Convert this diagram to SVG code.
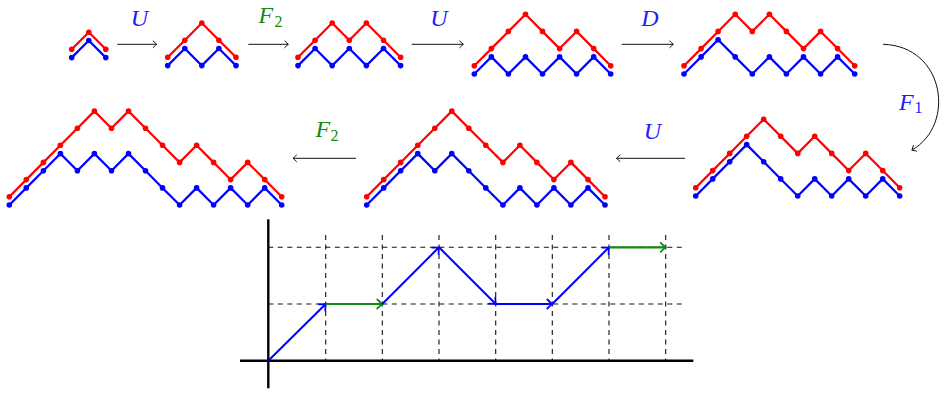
<svg xmlns="http://www.w3.org/2000/svg" width="946" height="417" viewBox="0 0 946 417">
<style>
.r{fill:none;stroke:#ff0000;stroke-width:2.2;stroke-linejoin:round;marker-start:url(#dr);marker-mid:url(#dr);marker-end:url(#dr)}
.b{fill:none;stroke:#0000ff;stroke-width:2.2;stroke-linejoin:round;marker-start:url(#db);marker-mid:url(#db);marker-end:url(#db)}
.conn{fill:none;stroke:#111;stroke-width:1;marker-end:url(#ak)}
.lbl{font-family:"Liberation Serif","DejaVu Serif",serif;font-style:italic;font-size:24px}
.sub{font-family:"Liberation Serif","DejaVu Serif",serif;font-size:16px}
.lb{fill:#2020ff}
.lg{fill:#108a10}
.grid{stroke:#111;stroke-width:1.1;stroke-dasharray:5,4.5;fill:none}
.axis{stroke:#000;stroke-width:2.4;fill:none}
.pb{stroke:#0000ff;stroke-width:2;fill:none;marker-end:url(#ab)}
.pg{stroke:#108a10;stroke-width:2.2;fill:none;marker-end:url(#ag)}
</style>
<defs>
<marker id="dr" markerUnits="userSpaceOnUse" markerWidth="6" markerHeight="6" refX="3" refY="3" overflow="visible"><circle cx="3" cy="3" r="2.8" fill="#ff0000"/></marker>
<marker id="db" markerUnits="userSpaceOnUse" markerWidth="6" markerHeight="6" refX="3" refY="3" overflow="visible"><circle cx="3" cy="3" r="2.8" fill="#0000ff"/></marker>
<marker id="ak" markerUnits="userSpaceOnUse" orient="auto" markerWidth="8" markerHeight="8" refX="0" refY="0" overflow="visible"><path d="M-3.5,-3.3 Q-1,-0.8 0,0 Q-1,0.8 -3.5,3.3" fill="none" stroke="#111" stroke-width="1" stroke-linecap="round"/></marker>
<marker id="ab" markerUnits="userSpaceOnUse" orient="auto" markerWidth="10" markerHeight="10" refX="0" refY="0" overflow="visible"><path d="M-5,-4.5 Q-1.5,-1 0,0 Q-1.5,1 -5,4.5" fill="none" stroke="#0000ff" stroke-width="1.8" stroke-linecap="round"/></marker>
<marker id="ag" markerUnits="userSpaceOnUse" orient="auto" markerWidth="10" markerHeight="10" refX="0" refY="0" overflow="visible"><path d="M-5,-4.5 Q-1.5,-1 0,0 Q-1.5,1 -5,4.5" fill="none" stroke="#108a10" stroke-width="1.8" stroke-linecap="round"/></marker>
</defs>
<rect width="946" height="417" fill="#ffffff"/>

<g id="path1">
<polyline class="r" points="71.7,49.3 88.8,32.2 105.8,49.3"/>
<polyline class="b" points="71.7,57.6 88.8,40.5 105.8,57.6"/>
</g>
<g id="path2">
<polyline class="r" points="167.7,57.3 184.8,40.2 201.8,23.0 218.9,40.2 236.0,57.3"/>
<polyline class="b" points="167.7,65.6 184.8,48.5 201.8,65.6 218.9,48.5 236.0,65.6"/>
</g>
<g id="path3">
<polyline class="r" points="298,57.3 315.1,40.2 332.2,23.0 349.3,40.2 366.4,23.0 383.5,40.2 400.6,57.3"/>
<polyline class="b" points="298,65.6 315.1,48.5 332.2,65.6 349.3,48.5 366.4,65.6 383.5,48.5 400.6,65.6"/>
</g>
<g id="path4">
<polyline class="r" points="474.3,65.7 491.4,48.6 508.4,31.4 525.5,14.3 542.5,31.4 559.6,48.6 576.6,31.4 593.7,48.6 610.7,65.7"/>
<polyline class="b" points="474.3,74 491.4,56.9 508.4,74 525.5,56.9 542.5,74 559.6,56.9 576.6,74 593.7,56.9 610.7,74"/>
</g>
<g id="path5">
<polyline class="r" points="684,65.7 701.1,48.6 718.1,31.4 735.2,14.3 752.3,31.4 769.4,14.3 786.4,31.4 803.5,48.6 820.6,31.4 837.6,48.6 854.7,65.7"/>
<polyline class="b" points="684,74 701.1,56.9 718.1,39.7 735.2,56.9 752.3,74 769.4,56.9 786.4,74 803.5,56.9 820.6,74 837.6,56.9 854.7,74"/>
</g>
<g id="path6">
<polyline class="r" points="695.7,187.7 712.7,170.6 729.7,153.4 746.7,136.3 763.7,119.2 780.7,136.3 797.7,153.4 814.7,136.3 831.7,153.4 848.7,170.6 865.7,153.4 882.7,170.6 899.7,187.7"/>
<polyline class="b" points="695.7,196 712.7,178.9 729.7,161.7 746.7,144.6 763.7,161.7 780.7,178.9 797.7,196 814.7,178.9 831.7,196 848.7,178.9 865.7,196 882.7,178.9 899.7,196"/>
</g>
<g id="path7">
<polyline class="r" points="366.7,196.7 383.7,179.6 400.7,162.4 417.8,145.3 434.8,128.2 451.8,111.1 468.8,128.2 485.8,145.3 502.9,162.4 519.9,145.3 536.9,162.4 553.9,179.6 570.9,162.4 588.0,179.6 605.0,196.7"/>
<polyline class="b" points="366.7,205 383.7,187.9 400.7,170.7 417.8,153.6 434.8,170.7 451.8,153.6 468.8,170.7 485.8,187.9 502.9,205 519.9,187.9 536.9,205 553.9,187.9 570.9,205 588.0,187.9 605.0,205"/>
</g>
<g id="path8">
<polyline class="r" points="9.3,196.7 26.3,179.6 43.4,162.4 60.4,145.3 77.4,128.2 94.4,111.1 111.5,128.2 128.5,111.1 145.5,128.2 162.5,145.3 179.6,162.4 196.6,145.3 213.6,162.4 230.6,179.6 247.7,162.4 264.7,179.6 281.7,196.7"/>
<polyline class="b" points="9.3,205 26.3,187.9 43.4,170.7 60.4,153.6 77.4,170.7 94.4,153.6 111.5,170.7 128.5,153.6 145.5,170.7 162.5,187.9 179.6,205 196.6,187.9 213.6,205 230.6,187.9 247.7,205 264.7,187.9 281.7,205"/>
</g>

<g id="connectors">
<line class="conn" x1="117.3" y1="44.3" x2="156.7" y2="44.3"/>
<text class="lbl lb" x="139.5" y="25.5" text-anchor="middle">U</text>
<line class="conn" x1="248.3" y1="44.3" x2="288.3" y2="44.3"/>
<text class="lbl lg" x="258.5" y="23">F</text><text class="sub lg" x="274.5" y="27">2</text>
<line class="conn" x1="411.7" y1="44.3" x2="463.3" y2="44.3"/>
<text class="lbl lb" x="439" y="25.5" text-anchor="middle">U</text>
<line class="conn" x1="621.7" y1="44.3" x2="673.3" y2="44.3"/>
<text class="lbl lb" x="650" y="25.5" text-anchor="middle">D</text>
<path class="conn" d="M883,44.3 C945,46 956,125 912,150"/>
<text class="lbl lb" x="899" y="109.5">F</text><text class="sub lb" x="914.5" y="113">1</text>
<line class="conn" x1="685" y1="158.3" x2="616.5" y2="158.3"/>
<text class="lbl lb" x="652.5" y="138.5" text-anchor="middle">U</text>
<line class="conn" x1="356" y1="158.3" x2="293" y2="158.3"/>
<text class="lbl lg" x="315.5" y="137">F</text><text class="sub lg" x="330.5" y="141">2</text>
</g>

<g id="chart">
<path class="grid" d="M325.7,235V360.7M382.3,235V360.7M439,235V360.7M495.7,235V360.7M552.3,235V360.7M609,235V360.7M665.7,235V360.7"/>
<path class="grid" d="M268.3,247.3H681.7M268.3,304H681.7"/>
<line class="axis" x1="240" y1="360.7" x2="693.3" y2="360.7"/>
<line class="axis" x1="268.3" y1="219.3" x2="268.3" y2="388.3"/>
<line class="pb" x1="268.3" y1="360.7" x2="325.7" y2="304"/>
<line class="pg" x1="325.7" y1="304" x2="382.3" y2="304"/>
<line class="pb" x1="382.3" y1="304" x2="439" y2="247.3"/>
<line class="pb" x1="439" y1="247.3" x2="495.7" y2="304"/>
<line class="pb" x1="495.7" y1="304" x2="552.3" y2="304"/>
<line class="pb" x1="552.3" y1="304" x2="609" y2="247.3"/>
<line class="pg" x1="609" y1="247.3" x2="665.7" y2="247.3"/>
</g>
</svg>
